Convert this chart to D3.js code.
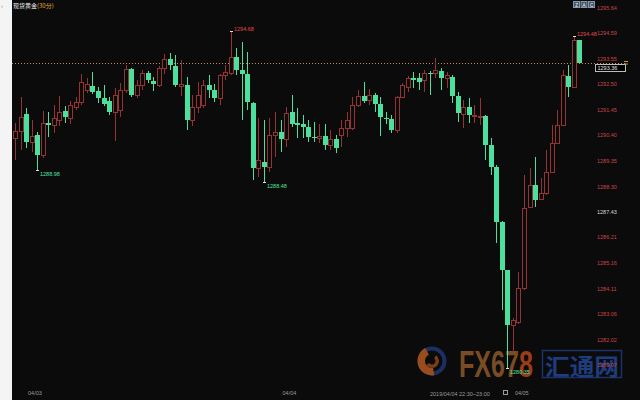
<!DOCTYPE html>
<html><head><meta charset="utf-8">
<script src="https://cdn.jsdelivr.net/npm/d3@7"></script>
<style>
html,body{margin:0;padding:0;background:#fff;}
svg{display:block;}
</style></head><body>
<svg id="c" width="640" height="400"></svg>
<script>
// ---- data (30-min candles, 现货黄金) ----
const opens=[
1290.28,1290.57,1291.27,1290.12,1290.41,1289.59,1290.90,1290.82,1291.02,1291.39,
1291.10,1291.55,1291.76,1292.25,1292.41,1292.21,1291.92,1291.80,1291.35,1291.43,
1292.25,1293.11,1292.05,1292.46,1292.95,1292.62,1292.46,1293.15,1293.52,1293.23,
1292.41,1292.46,1291.02,1291.55,1291.64,1292.46,1292.25,1291.92,1292.87,1292.95,
1293.60,1293.07,1292.91,1291.72,1289.05,1289.30,1289.09,1290.41,1290.53,1290.24,
1291.35,1290.90,1290.86,1290.73,1290.32,1290.28,1290.36,1290.00,1290.24,1290.41,
1290.69,1290.69,1291.64,1292.00,1291.84,1292.05,1291.68,1291.10,1291.06,1290.61,
1291.96,1292.37,1292.74,1292.74,1292.66,1292.95,1292.95,1293.03,1292.74,1292.78,
1292.00,1291.27,1291.55,1291.18,1291.14,1291.18,1290.00,1289.09,1286.84,1284.87,
1282.62,1282.74,1284.13,1287.45,1288.36,1287.78,1288.03,1288.89,1290.08,1290.82,
1292.82,1292.37,1294.30];
const closes=[
1290.57,1291.14,1290.12,1290.36,1289.59,1290.90,1290.82,1291.10,1291.35,1291.14,
1291.64,1291.76,1292.58,1292.50,1292.17,1291.92,1291.68,1291.35,1292.05,1292.25,
1293.11,1292.05,1292.46,1292.95,1292.66,1292.50,1293.15,1293.52,1293.28,1292.46,
1292.50,1291.02,1291.55,1292.05,1292.46,1292.25,1291.92,1292.87,1292.99,1293.60,
1293.07,1292.91,1291.76,1289.05,1289.38,1289.09,1290.41,1290.53,1290.24,1291.31,
1290.86,1290.82,1290.73,1290.32,1290.28,1290.36,1290.00,1290.24,1289.87,1290.69,
1291.02,1291.64,1292.00,1291.80,1292.05,1291.68,1291.14,1291.06,1290.61,1291.96,
1292.46,1292.74,1292.66,1292.58,1292.95,1292.91,1293.07,1292.74,1292.87,1292.00,
1291.31,1291.55,1291.23,1291.23,1291.18,1290.00,1289.09,1286.84,1284.87,1282.62,
1282.82,1284.13,1287.41,1288.36,1287.74,1288.03,1288.89,1290.08,1290.82,1292.87,
1292.37,1294.30,1293.36];
const highs=[
1290.90,1291.96,1291.51,1291.02,1290.53,1291.39,1291.35,1291.64,1292.00,1291.59,
1291.80,1291.96,1292.91,1292.74,1292.99,1292.37,1292.46,1291.96,1292.33,1292.54,
1293.28,1293.15,1292.66,1293.07,1293.03,1292.78,1293.23,1293.73,1293.77,1293.69,
1293.48,1292.78,1292.05,1292.58,1292.66,1292.87,1292.50,1292.91,1293.28,1294.68,
1293.97,1294.22,1293.81,1291.76,1291.10,1291.02,1291.10,1291.35,1291.02,1291.55,
1292.05,1291.51,1291.23,1291.02,1290.94,1290.86,1290.86,1290.61,1290.41,1291.02,
1291.35,1291.96,1292.25,1292.58,1292.29,1292.13,1291.96,1291.35,1291.23,1292.00,
1292.54,1292.82,1292.99,1292.95,1293.07,1293.03,1293.56,1293.15,1292.99,1292.87,
1292.17,1291.84,1291.92,1291.64,1291.92,1291.23,1290.28,1289.18,1286.88,1284.87,
1282.90,1284.79,1288.77,1289.05,1289.50,1288.64,1289.79,1290.82,1291.43,1293.07,
1293.28,1294.48,1294.30];
const lows=[
1289.38,1289.79,1289.87,1289.71,1288.98,1289.46,1290.32,1290.49,1290.77,1290.90,
1290.86,1291.43,1291.64,1292.13,1292.09,1291.72,1291.59,1291.23,1290.16,1291.14,
1292.13,1291.96,1291.92,1292.25,1292.54,1292.21,1292.37,1292.91,1293.07,1292.37,
1292.00,1290.61,1290.77,1291.31,1291.51,1291.92,1291.76,1291.64,1292.66,1292.87,
1292.87,1291.02,1291.43,1288.56,1288.68,1288.48,1288.89,1289.50,1289.71,1289.91,
1290.73,1290.28,1290.28,1290.12,1290.12,1290.08,1289.79,1289.79,1289.67,1289.91,
1290.32,1290.61,1291.55,1291.72,1291.64,1291.35,1290.36,1290.86,1290.49,1290.49,
1291.92,1292.17,1292.33,1292.25,1292.17,1292.05,1292.74,1292.25,1292.33,1291.72,
1290.94,1290.69,1290.90,1290.90,1290.82,1289.38,1288.77,1285.98,1283.23,1280.85,
1281.51,1282.66,1284.05,1287.41,1287.45,1287.74,1287.95,1288.85,1290.04,1290.77,
1291.96,1292.37,1293.36];

const yTicks=[1295.64,1294.59,1293.55,1292.50,1291.45,1290.40,1289.35,1288.30,1287.26,1286.21,1285.16,1284.11,1283.06,1282.02,1280.97];
const yTickLabels=["1295.64","1294.59","1293.55","1292.50","1291.45","1290.40","1289.35","1288.30","1287.43","1286.21","1285.16","1284.11","1283.06","1282.02","1280.97"];
const dayIdx=[2,48,90];
const dayLabels=["04/03","04/04","04/05"];
const annIdx=[39,4,45,89,101];
const annText=["1294.68","1288.98","1288.48","1280.35","1294.48"];
const annSide=["high","low","low","low","high"];
const titleName="现货黄金";
const titlePeriod="(30分)";
const cursorLabel="2019/04/04 22:30~23:00";

// ---- drawing ----
const RED="#943234", GREEN="#4ce09e", BG="#0b0b0b";
const FONT="'Liberation Sans', Arial, sans-serif";
const svg=d3.select("#c");
const n=opens.length;
const x=d3.scaleBand().domain(d3.range(n)).range([12.23,582.07]).padding(0);
const y=d3.scaleLinear().domain([1280.97,1295.64]).range([365,7.3]);
const cxOf=i=>Math.round(x(i)+x.bandwidth()/2);

svg.append("rect").attr("width",640).attr("height",400).attr("fill","#f4f4f4");
svg.append("rect").attr("x",12).attr("width",628).attr("height",400).attr("fill",BG);
svg.append("text").attr("x",1).attr("y",7.5).attr("font-size",6).attr("fill","#999").attr("font-family",FONT).text("‹");

// watermark
const wm=svg.append("g");
const logo=wm.append("g").attr("transform","translate(432,361)");
logo.append("circle").attr("r",12.5).attr("fill","none").attr("stroke","#1b2f63").attr("stroke-width",4);
logo.append("path").attr("d",d3.arc().innerRadius(7).outerRadius(14.5).startAngle(Math.PI*0.95).endAngle(Math.PI*1.85)()).attr("fill","#9a4d1c");
logo.append("path").attr("d",d3.arc().innerRadius(3.5).outerRadius(7).startAngle(Math.PI*0.2).endAngle(Math.PI*1.3)()).attr("fill","#7a3d18");
const fx=wm.append("text").attr("x",459).attr("y",377).attr("font-size",37).attr("font-weight","bold")
  .attr("font-family","'Liberation Sans Narrow','Liberation Sans',Arial,sans-serif")
  .attr("textLength",74).attr("lengthAdjust","spacingAndGlyphs");
fx.append("tspan").attr("fill","#7a4c24").text("FX67");
fx.append("tspan").attr("fill","#9a3c1a").text("8");
wm.append("rect").attr("x",542.5).attr("y",350.5).attr("width",79).attr("height",27).attr("fill","none").attr("stroke","#1a3268").attr("stroke-width",1.5);
wm.append("text").attr("x",545).attr("y",374.5).attr("font-size",23).attr("font-weight","bold")
  .attr("font-family","'Noto Sans CJK SC',sans-serif").attr("textLength",74).attr("lengthAdjust","spacingAndGlyphs")
  .attr("fill","#1e3c7e").text("汇通网");

// current price line
const lastY=Math.round(y(closes[n-1]))+0.5;
svg.append("line").attr("x1",12).attr("x2",626).attr("y1",lastY).attr("y2",lastY)
  .attr("stroke","#c0905a").attr("stroke-dasharray","1,2").attr("stroke-width",1);

// candles
const cg=svg.append("g");
cg.selectAll("g").data(d3.range(n)).join("g").each(function(i){
  const g=d3.select(this), o=opens[i], c=closes[i];
  const cx=cxOf(i), up=c>o;
  const yH=Math.round(y(highs[i])), yL=Math.round(y(lows[i]));
  const yT=Math.round(y(Math.max(o,c))), yB=Math.round(y(Math.min(o,c)));
  if(up){
    g.append("line").attr("x1",cx+0.5).attr("x2",cx+0.5).attr("y1",yH).attr("y2",yT).attr("stroke",RED);
    g.append("line").attr("x1",cx+0.5).attr("x2",cx+0.5).attr("y1",yB).attr("y2",yL).attr("stroke",RED);
    g.append("rect").attr("x",cx-1.5).attr("y",yT+0.5).attr("width",4).attr("height",Math.max(yB-yT,1))
      .attr("fill",BG).attr("stroke",RED);
  } else {
    g.append("line").attr("x1",cx+0.5).attr("x2",cx+0.5).attr("y1",yH).attr("y2",yL).attr("stroke",GREEN);
    g.append("rect").attr("x",cx-2).attr("y",yT).attr("width",5).attr("height",Math.max(yB-yT,1)).attr("fill",GREEN);
  }
});

// extreme annotations
annIdx.forEach((i,k)=>{
  const cx=cxOf(i), hi=annSide[k]==="high";
  const yv=Math.round(y(hi?highs[i]:lows[i]));
  svg.append("line").attr("x1",cx-1).attr("x2",cx+2).attr("y1",yv+0.5).attr("y2",yv+0.5).attr("stroke","#e0e0e0");
  svg.append("text").attr("x",cx+3).attr("y",hi?yv-0.5:yv+6).attr("font-size",5.5).attr("font-family",FONT)
    .attr("fill",hi?"#e04a4a":"#4fe3a2").text(annText[k]);
});

// y axis (right)
const ya=svg.append("g").attr("transform","translate(597,0)")
  .call(d3.axisRight(y).tickValues(yTicks).tickFormat((d,i)=>yTickLabels[i]).tickSize(0).tickPadding(0));
ya.select(".domain").remove();
ya.attr("font-size",5.5).attr("font-family",FONT);
ya.selectAll("text").attr("fill",(d,i)=>yTickLabels[i]==="1287.43"?"#d8d8d8":"#c8464a");

// current price box
svg.append("rect").attr("x",595.5).attr("y",lastY+1).attr("width",30).attr("height",7).attr("fill","#000").attr("stroke","#bdbdbd");
svg.append("text").attr("x",597.5).attr("y",lastY+6.5).attr("font-size",5.5).attr("font-family",FONT).attr("fill","#e8e8e8").text(closes[n-1].toFixed(2));
svg.append("line").attr("x1",624).attr("x2",628).attr("y1",lastY-2).attr("y2",lastY-2).attr("stroke","#d09040");
svg.append("line").attr("x1",624).attr("x2",628).attr("y1",lastY+0.5).attr("y2",lastY+0.5).attr("stroke","#d09040");

// x axis (day labels)
const xa=svg.append("g").attr("transform","translate(0,391)")
  .call(d3.axisBottom(x).tickValues(dayIdx).tickFormat((d,i)=>dayLabels[i]).tickSize(0).tickPadding(0));
xa.select(".domain").remove();
xa.attr("font-size",5.5).attr("font-family",FONT);
xa.selectAll("text").attr("fill","#9a9a9a").attr("text-anchor","start").attr("dx",2);
svg.append("text").attr("x",430).attr("y",395.5).attr("font-size",5.5).attr("font-family",FONT).attr("fill","#9a9a9a").text(cursorLabel);
svg.append("rect").attr("x",503.5).attr("y",390.5).attr("width",4).attr("height",4).attr("fill","none").attr("stroke","#9a9a9a");

// title
const t=svg.append("text").attr("x",13).attr("y",7.5).attr("font-size",6).attr("font-family","'Noto Sans CJK SC',sans-serif");
t.append("tspan").attr("fill","#eeeeee").text(titleName);
t.append("tspan").attr("fill","#e8b040").text(titlePeriod);

// top-right tool icons
["Z","A","C"].forEach((s,k)=>{
  svg.append("rect").attr("x",573.5+k*7.5).attr("y",1.5).attr("width",6).attr("height",6).attr("fill","#44566e").attr("stroke","#8896a8");
  svg.append("text").attr("x",576.5+k*7.5).attr("y",6.5).attr("font-size",4.5).attr("text-anchor","middle").attr("font-family",FONT).attr("fill","#fff").text(s);
});
</script>
</body></html>
